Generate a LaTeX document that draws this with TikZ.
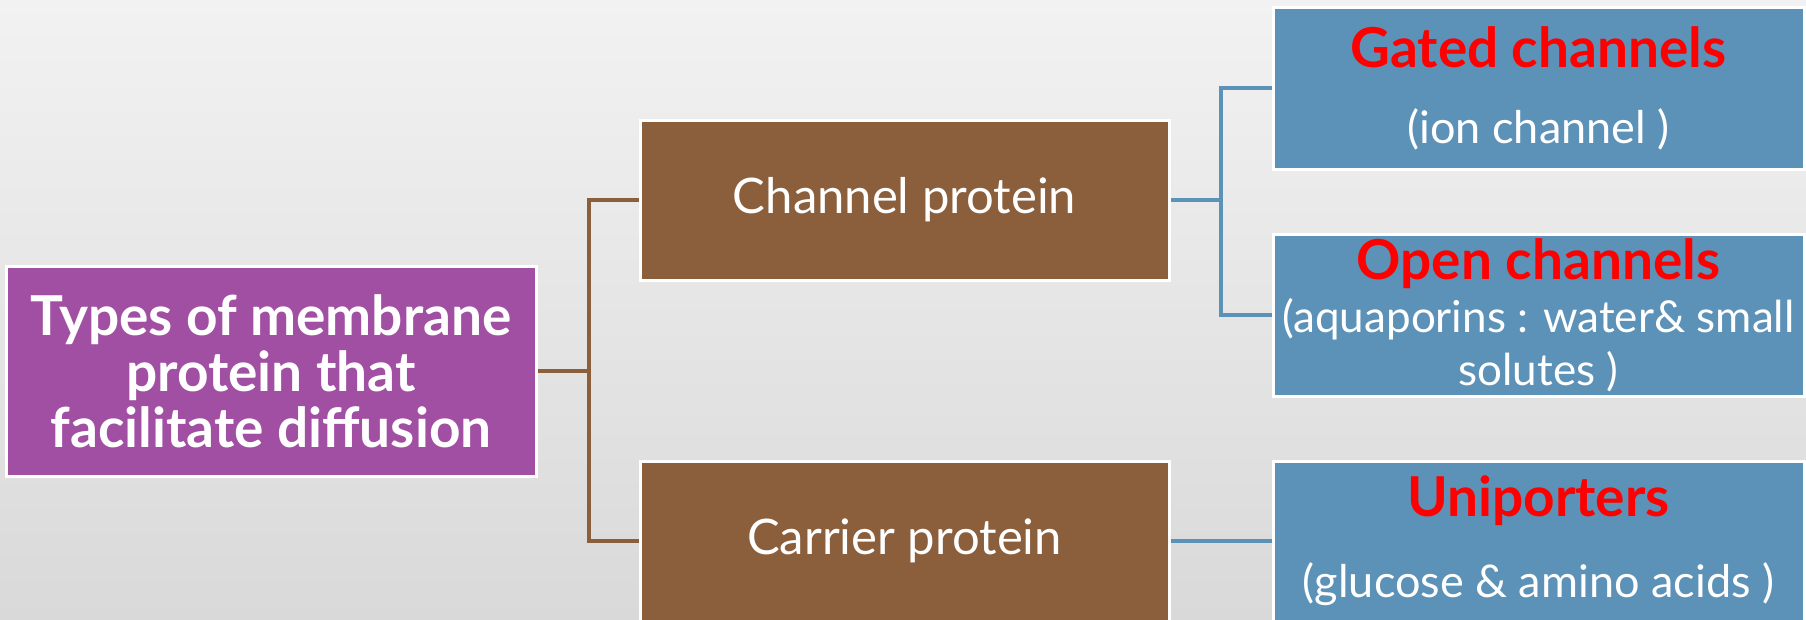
\documentclass[tikz,border=0pt]{standalone}
\usepackage{fontspec}
\setmainfont{Lato}
\begin{document}
\begin{tikzpicture}[x=1pt,y=-1pt,
  box/.style={draw=white, line width=3pt, text=white, align=center, inner sep=0pt},
  rootbox/.style={box, fill=rootpurple, minimum width=530pt, minimum height=210pt, font=\fontsize{55}{56}\selectfont\bfseries},
  midbox/.style={box, fill=midbrown, minimum width=529pt, minimum height=160pt, font=\fontsize{49}{56}\selectfont},
  leafbox/.style={box, fill=leafblue, minimum width=531pt, minimum height=162pt, font=\fontsize{44}{53}\selectfont},
  brownline/.style={draw=midbrown, line width=3.5pt},
  blueline/.style={draw=leafblue, line width=3.5pt}]
\definecolor{rootpurple}{RGB}{161,79,163}
\definecolor{midbrown}{RGB}{139,94,60}
\definecolor{leafblue}{RGB}{93,146,184}
\definecolor{bgtop}{RGB}{242,242,242}
\definecolor{bgbot}{RGB}{217,217,217}
\newcommand{\hd}[1]{{\fontsize{55}{56}\selectfont\bfseries\color{red}#1}}
\useasboundingbox (0,0) rectangle (1806,619);
\shade[top color=bgtop, bottom color=bgbot] (0,0) rectangle (1806,619);
\begin{scope}
\clip (0,0) rectangle (1806,619);
\node[rootbox] (root) at (271,371) {Types of membrane\\ protein that\\ facilitate diffusion};
\node[midbox] (chan) at (904.5,200) {Channel protein};
\node[midbox] (carr) at (904.5,541) {Carrier protein};
\node[leafbox] (gated) at (1538.5,88) {\hd{Gated channels}\\[23pt]{\fontsize{45}{53}\selectfont (ion channel )}};
\node[leafbox] (open) at (1538.5,315) {\hd{Open channels}\\ (aquaporins : water\& small\\ solutes )};
\node[leafbox, minimum height=160pt] (uni) at (1538.5,541) {\hd{Uniporters}\\[28pt]{\fontsize{45}{53}\selectfont (glucose \& amino acids )}};
\coordinate (j1) at (589,371);
\coordinate (j2) at (1221,200);
\draw[brownline] (root.east) -- (j1) |- (chan.west);
\draw[brownline] (j1) |- (carr.west);
\draw[blueline] (chan.east) -- (j2) |- (gated.west);
\draw[blueline] (j2) |- (open.west);
\draw[blueline] (carr.east) -- (uni.west);
\end{scope}
\end{tikzpicture}
\end{document}
